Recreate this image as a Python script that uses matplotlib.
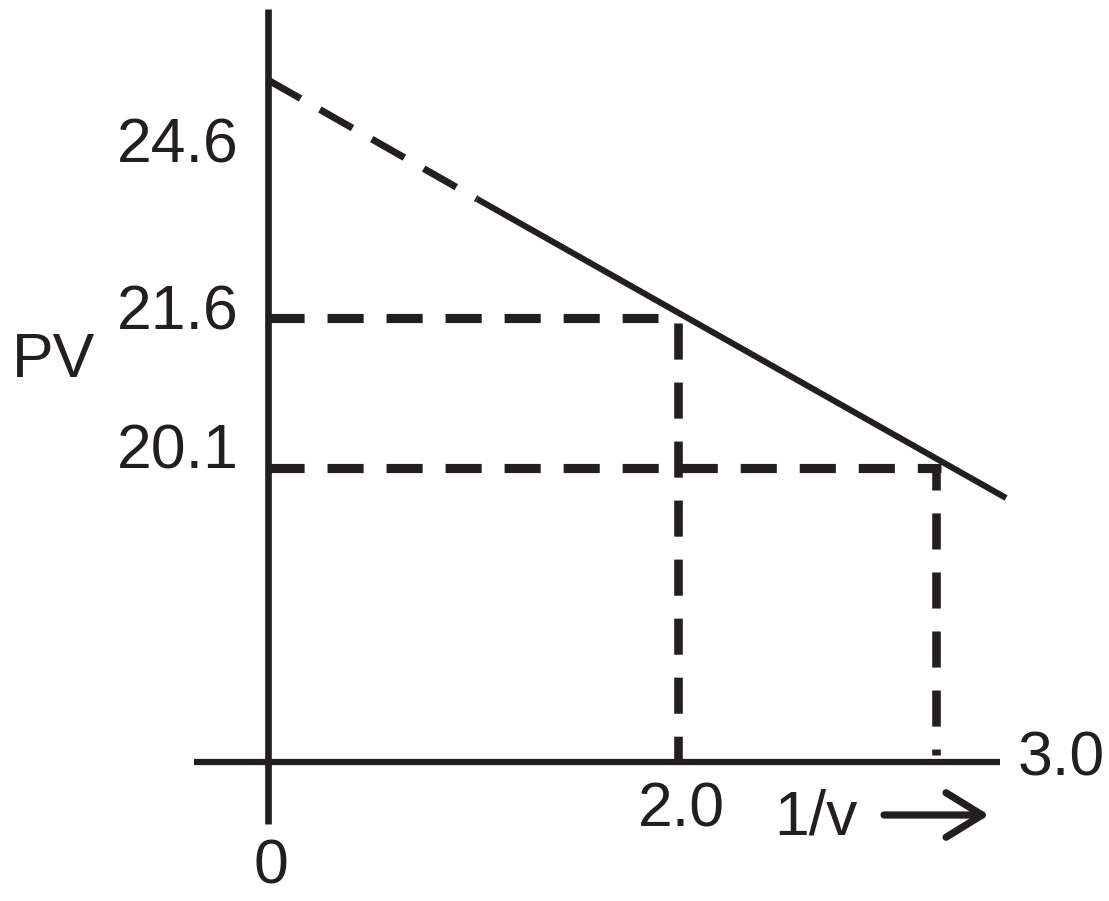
import matplotlib.pyplot as plt

plt.rcParams["font.family"] = ["Liberation Sans", "DejaVu Sans"]
plt.rcParams["lines.scale_dashes"] = False

ink = "#231f20"

# PV 軸的刻度文字 (畫在草圖上的位置)
pv_labels = ["24.6", "21.6", "20.1"]
pv_label_y = [23.32, 21.65, 20.26]

# 1/v 軸的刻度文字
inv_v_labels = ["0", "2.0", "3.0"]
inv_v_label_x = [0.015, 2.015, 3.87]
inv_v_label_y = [16.11, 16.68, 17.19]

# PV 對 1/v 的直線 (前段虛線外插, 後段實線)
line_dash_x = [0.0, 1.02]
line_dash_y = [23.98, 22.79]
line_x = [1.02, 3.6]
line_y = [22.79, 19.80]

# 讀值的兩個點
point_x = [2.0, 3.26]
point_y = [21.6, 20.1]
hline_end = [1.9, 3.285]     # 水平虛線的終點
vline_top = [21.55, 20.13]   # 垂直虛線的起點
vline_bottom = [17.16, 17.23]
vline_offset = [0, 8]

axis_y = 17.16      # 1/v 軸畫的高度
axis_x = [-0.36, 3.57]
yaxis_y = [16.54, 24.69]

fig = plt.figure(figsize=(11.09, 9.01), dpi=100)
ax = fig.add_axes([0, 0, 1, 1])
ax.set_xlim(-1.307, 4.102)
ax.set_ylim(15.77, 24.78)
ax.axis("off")

# 座標軸
ax.plot([0, 0], yaxis_y, color=ink, lw=4.8, solid_capstyle="butt")
ax.plot(axis_x, [axis_y, axis_y], color=ink, lw=4.5, solid_capstyle="butt")

# 直線
ax.plot(line_dash_x, line_dash_y, color=ink, lw=5, dashes=(27, 16), dash_capstyle="butt")
ax.plot(line_x, line_y, color=ink, lw=4.4, solid_capstyle="butt")

# 讀值虛線
for i in range(len(point_x)):
    ax.plot([0, hline_end[i]], [point_y[i], point_y[i]], color=ink, lw=6.6,
            linestyle=(0, (26, 16.5)), dash_capstyle="butt")
    ax.plot([point_x[i], point_x[i]], [vline_top[i], vline_bottom[i]], color=ink, lw=6.2,
            linestyle=(vline_offset[i], (26, 16.5)), dash_capstyle="butt")

# 文字
for lab, y in zip(pv_labels, pv_label_y):
    ax.text(-0.737, y, lab, fontsize=45, ha="left", va="center", color=ink)
ax.text(-1.044, 21.17, "PV", fontsize=45, ha="center", va="center", color=ink)

for lab, x, y in zip(inv_v_labels, inv_v_label_x, inv_v_label_y):
    ax.text(x, y, lab, fontsize=45, ha="center", va="center", color=ink)
ax.text(2.673, 16.60, "1/v", fontsize=45, ha="center", va="center", color=ink)

ax.annotate("", xy=(3.517, 16.63), xytext=(3.005, 16.63),
            arrowprops=dict(arrowstyle="->,head_length=1.3,head_width=0.8",
                            lw=5.2, color=ink, mutation_scale=20,
                            shrinkA=0, shrinkB=0))

fig.savefig("out.png", dpi=100)
